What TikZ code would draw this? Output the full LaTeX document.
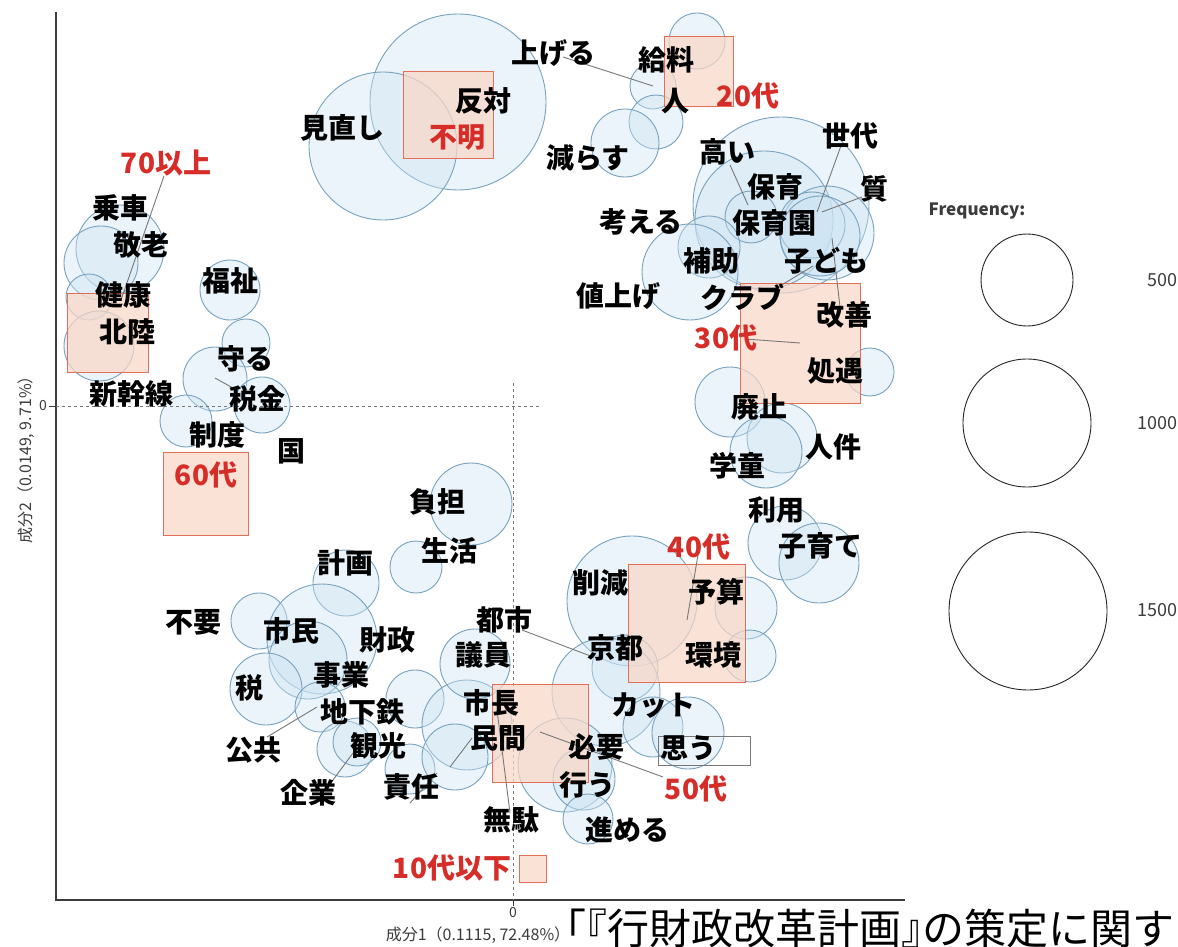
\documentclass[tikz,border=0pt]{standalone}
\usepackage{fontspec}
\newfontfamily\jp{Noto Sans CJK JP}
\definecolor{bubfill}{RGB}{205,228,243}
\definecolor{bubline}{RGB}{120,162,190}
\definecolor{boxfill}{RGB}{250,215,198}
\definecolor{boxline}{RGB}{228,110,90}
\definecolor{redc}{RGB}{215,45,40}
\definecolor{axisc}{RGB}{60,60,60}
\definecolor{lnkc}{RGB}{120,120,120}
\tikzset{
  w/.style={font=\jp\bfseries\fontsize{28}{28}\selectfont, inner sep=0pt, text=black},
  rl/.style={w, text=redc},
  bub/.style={draw=bubline, fill=bubfill, fill opacity=0.4, line width=0.9pt},
  agebox/.style={draw=boxline, fill=boxfill, fill opacity=0.7, line width=0.9pt},
  lnk/.style={draw=lnkc, line width=0.9pt},
  small/.style={font=\jp\fontsize{14}{14}\selectfont, inner sep=0pt, text=axisc},
  legnum/.style={font=\jp\fontsize{18}{18}\selectfont, inner sep=0pt, text=axisc, anchor=east},
  legc/.style={draw=black!85, line width=0.9pt},
}
\begin{document}
\begin{tikzpicture}[x=1pt,y=-1pt]
\useasboundingbox (0,0) rectangle (1178,947);
\fill[white] (0,0) rectangle (1178,947);
% bubbles
\foreach \cx/\cy/\r in {
 458/102/88, 383/146/74, 697/41/28, 653/86/23, 656/122/27, 625/143/34,
 781/205/88, 764/220/69, 751/217/26, 827/233/47, 812/225/33, 820/236/40,
 709/247/31, 690/272/48, 870/372/24, 730/402/35, 782/438/35, 766/452/36,
 785/543/37, 819/563/40,
 120/249/44, 101/263/37, 89/297/23, 99/346/35,
 230/290/30, 246/343/24, 215/379/32, 262/405/28, 186/421/26,
 471/504/41, 416/567/26, 346/583/33, 259/621/28, 322/639/55, 308/660/39,
 266/689/36, 320/707/25, 415/699/29, 345/749/28, 357/742/24, 410/769/25,
 467/725/45, 455/757/33, 475/664/35,
 632/601/65, 746/608/31, 750/656/26, 625/668/33, 606/692/54,
 565/765/47, 584/779/31, 588/819/25, 653/727/30, 688/733/36}
 {\draw[bub] (\cx,\cy) circle (\r pt);}
% axes
\draw[axisc, line width=1.5pt] (56,12) -- (56,900) -- (905,900);
\draw[lnkc, dashed, line width=0.7pt] (56,406) -- (540,406);
\draw[lnkc, dashed, line width=0.7pt] (513,383) -- (513,900);
\draw[axisc, line width=0.8pt] (49,406) -- (56,406);
\draw[axisc, line width=0.8pt] (513,900) -- (513,906);
\node[small] (y0) at (43,406) {0};
\node[small] (x0) at (513,913) {0};
\node[small, font=\jp\fontsize{16}{16}\selectfont] (xlab) at (478,935) {成分1（0.1115, 72.48\%）};
\node[small, font=\jp\fontsize{16}{16}\selectfont, rotate=90] (ylab) at (26,456) {成分2（0.0149, 9.71\%）};
% age boxes
\draw[agebox] (403,71) rectangle (493,158);
\draw[agebox] (664,36) rectangle (733,106);
\draw[agebox] (67,293) rectangle (148,372);
\draw[agebox] (740,283) rectangle (860,403);
\draw[agebox] (163,452) rectangle (248,535);
\draw[agebox] (628,564) rectangle (745,682);
\draw[agebox] (492,684) rectangle (588,782);
\draw[agebox] (519,855) rectangle (546,882);
\draw[draw=lnkc, line width=0.9pt] (658,736) rectangle (750,765);
% link end points
\coordinate (a1) at (563,57);  \coordinate (a2) at (653,86);
\coordinate (b1) at (164,176); \coordinate (b2) at (121,300);
\coordinate (c1) at (730,165); \coordinate (c2) at (748,205);
\coordinate (d1) at (842,143); \coordinate (d2) at (817,212);
\coordinate (e1) at (862,197); \coordinate (e2) at (822,212);
\coordinate (f1) at (832,238); \coordinate (f2) at (840,307);
\coordinate (g1) at (775,289); \coordinate (g2) at (813,266);
\coordinate (h1) at (745,339); \coordinate (h2) at (800,343);
\coordinate (i1) at (698,555); \coordinate (i2) at (687,620);
\coordinate (j1) at (522,630); \coordinate (j2) at (593,657);
\coordinate (k1) at (472,738); \coordinate (k2) at (450,767);
\coordinate (l1) at (540,732); \coordinate (l2) at (663,777);
\coordinate (m1) at (497,710); \coordinate (m2) at (510,813);
\coordinate (n1) at (267,737); \coordinate (n2) at (317,707);
\coordinate (o1) at (333,780); \coordinate (o2) at (353,753);
\coordinate (p1) at (410,803); \coordinate (p2) at (437,773);
\coordinate (q1) at (215,378); \coordinate (q2) at (233,388);
\foreach \s/\t in {a1/a2,b1/b2,c1/c2,d1/d2,e1/e2,f1/f2,g1/g2,h1/h2,i1/i2,j1/j2,k1/k2,l1/l2,m1/m2,n1/n2,o1/o2,p1/p2,q1/q2}
  {\draw[lnk] (\s) -- (\t);}
% word labels
\node[w] (t01) at (553,53) {上げる};
\node[w] (t02) at (666,60) {給料};
\node[w] (t03) at (675,101) {人};
\node[w] (t04) at (483,101) {反対};
\node[w] (t05) at (342,128) {見直し};
\node[w] (t06) at (588,158) {減らす};
\node[w] (t07) at (727,152) {高い};
\node[w] (t08) at (850,136) {世代};
\node[w] (t09) at (775,187) {保育};
\node[w] (t10) at (874,189) {質};
\node[w] (t11) at (641,222) {考える};
\node[w] (t12) at (774,223) {保育園};
\node[w] (t13) at (711,261) {補助};
\node[w] (t14) at (826,261) {子ども};
\node[w] (t15) at (618,296) {値上げ};
\node[w] (t16) at (742,297) {クラブ};
\node[w] (t17) at (844,315) {改善};
\node[w] (t18) at (835,371) {処遇};
\node[w] (t19) at (759,407) {廃止};
\node[w] (t20) at (833,447) {人件};
\node[w] (t21) at (737,466) {学童};
\node[w] (t22) at (776,510) {利用};
\node[w] (t23) at (820,546) {子育て};
\node[w] (t24) at (120,208) {乗車};
\node[w] (t25) at (141,245) {敬老};
\node[w] (t26) at (230,281) {福祉};
\node[w] (t27) at (123,295) {健康};
\node[w] (t28) at (127,332) {北陸};
\node[w] (t29) at (245,359) {守る};
\node[w] (t30) at (131,394) {新幹線};
\node[w] (t31) at (257,399) {税金};
\node[w] (t32) at (217,435) {制度};
\node[w] (t33) at (291,451) {国};
\node[w] (t34) at (437,502) {負担};
\node[w] (t35) at (449,551) {生活};
\node[w] (t36) at (345,563) {計画};
\node[w] (t37) at (193,622) {不要};
\node[w] (t38) at (291,631) {市民};
\node[w] (t39) at (387,640) {財政};
\node[w] (t40) at (341,675) {事業};
\node[w] (t41) at (249,688) {税};
\node[w] (t42) at (362,712) {地下鉄};
\node[w] (t43) at (253,750) {公共};
\node[w] (t44) at (378,746) {観光};
\node[w] (t45) at (308,793) {企業};
\node[w] (t46) at (411,787) {責任};
\node[w] (t47) at (504,620) {都市};
\node[w] (t48) at (483,655) {議員};
\node[w] (t49) at (491,703) {市長};
\node[w] (t50) at (498,738) {民間};
\node[w] (t51) at (600,583) {削減};
\node[w] (t52) at (716,592) {予算};
\node[w] (t53) at (615,648) {京都};
\node[w] (t54) at (713,655) {環境};
\node[w] (t55) at (653,706) {カット};
\node[w] (t56) at (596,747) {必要};
\node[w] (t57) at (688,748) {思う};
\node[w] (t58) at (587,785) {行う};
\node[w] (t59) at (511,820) {無駄};
\node[w] (t60) at (627,830) {進める};
% age labels
\node[rl] (r1) at (457,138) {不明};
\node[rl] (r2) at (748,96) {20代};
\node[rl] (r3) at (166,163) {70以上};
\node[rl] (r4) at (726,338) {30代};
\node[rl] (r5) at (206,475) {60代};
\node[rl] (r6) at (699,547) {40代};
\node[rl] (r7) at (696,789) {50代};
\node[rl] (r8) at (452,868) {10代以下};
% legend
\node[font=\jp\bfseries\fontsize{17}{17}\selectfont, text=axisc, inner sep=0pt] (legt) at (977,211) {Frequency:};
\draw[legc] (1027,280) circle (46pt);
\draw[legc] (1027,423) circle (64pt);
\draw[legc] (1028,611) circle (79pt);
\node[legnum] (l500) at (1178,280) {500};
\node[legnum] (l1000) at (1178,423) {1000};
\node[legnum] (l1500) at (1178,610) {1500};
% caption
\node[font=\jp\fontsize{42}{42}\selectfont, inner sep=0pt, anchor=west, text=black] (cap) at (544,929) {「\kern-0.5em『行財政改革計画』\kern-0.5emの策定に関する};
\end{tikzpicture}
\end{document}
